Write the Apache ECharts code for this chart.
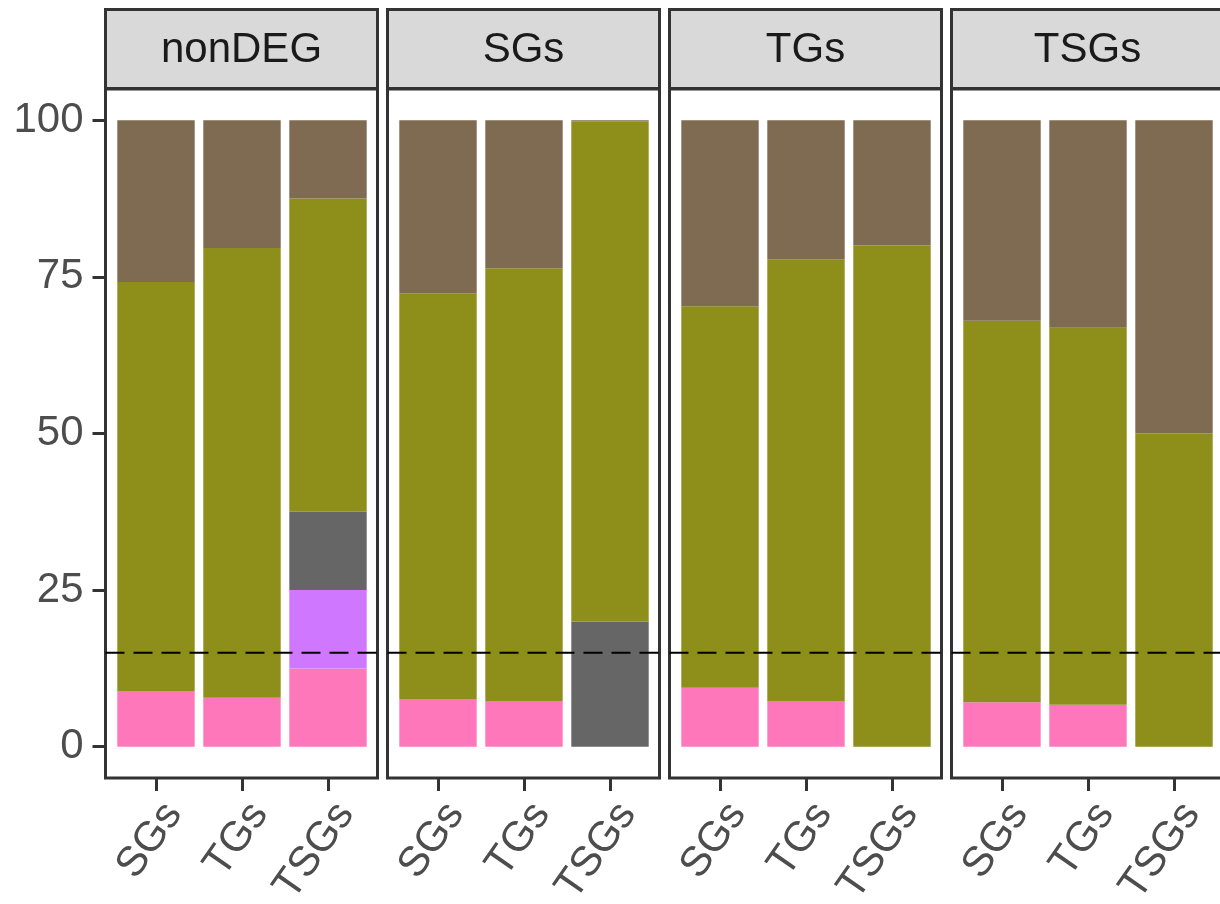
<!DOCTYPE html>
<html>
<head>
<meta charset="utf-8">
<script src="https://cdn.jsdelivr.net/npm/echarts@6/dist/echarts.min.js"></script>
<style>
  html, body { margin: 0; padding: 0; background: #fff; }
  #chart { width: 1220px; height: 904px; }
</style>
</head>
<body>
<div id="chart"></div>
<script>
// facet panels and the bars inside each panel
const panels = ['nonDEG', 'SGs', 'TGs', 'TSGs'];
const groups = ['SGs', 'TGs', 'TSGs'];
const yTicks = [0, 25, 50, 75, 100];
const threshold = 15;

// stacked segments (percent), bottom to top, one row per panel
const pink   = [[8.9, 7.8, 12.5], [7.6, 7.3, 0],    [9.4, 7.3, 0],    [7.1, 6.7, 0]];
const violet = [[0, 0, 12.5],     [0, 0, 0],        [0, 0, 0],        [0, 0, 0]];
const grey   = [[0, 0, 12.5],     [0, 0, 20],       [0, 0, 0],        [0, 0, 0]];
const olive  = [[65.3, 71.8, 50], [64.8, 69.1, 79.8], [60.9, 70.5, 80], [60.9, 60.2, 50]];
const brown  = [[25.8, 20.4, 12.5], [27.6, 23.6, 0.2], [29.7, 22.2, 20], [32.0, 33.1, 50]];

const layers = [
  { name: 'pink', data: pink, color: '#FF77BB' },
  { name: 'violet', data: violet, color: '#D077FF' },
  { name: 'grey', data: grey, color: '#666666' },
  { name: 'olive', data: olive, color: '#8E8E1B' },
  { name: 'brown', data: brown, color: '#7F6B51' }
];

const font = '"Liberation Sans", Arial, sans-serif';
const fs = 42;
const chart = echarts.init(document.getElementById('chart'));

const grids = [], xAxes = [], yAxes = [], series = [], graphics = [];
const gridTop = 89, gridHeight = 689;

panels.forEach(function (p, i) {
  const left = 105.5 + 282 * i;
  const width = 272;
  const a = grids.length;      // panel frame grid (y labels, threshold line)
  const b = a + 1;             // bar grid (category axis)
  grids.push({
    left: left, top: gridTop, width: width, height: gridHeight, outerBoundsMode: 'none',
    show: true, borderColor: '#333333', borderWidth: 3, backgroundColor: 'transparent'
  });
  grids.push({ left: 113 + 282 * i, top: gridTop, width: 258, height: gridHeight, outerBoundsMode: 'none' });

  xAxes.push({ gridIndex: a, type: 'value', min: 0, max: 1, show: false });
  yAxes.push({
    gridIndex: a, type: 'value', min: -5, max: 105,
    splitLine: { show: false },
    axisLine: { show: false },
    axisTick: { show: i === 0, customValues: yTicks, length: 13, lineStyle: { color: '#333333', width: 3 } },
    axisLabel: { show: i === 0, customValues: yTicks, margin: 22, fontSize: fs, color: '#4D4D4D', fontFamily: font }
  });
  xAxes.push({
    gridIndex: b, type: 'category', data: groups, position: 'bottom',
    axisLine: { show: true, onZero: false, lineStyle: { color: '#333333', width: 0, opacity: 0 } },
    axisTick: { show: true, alignWithLabel: true, length: 13, lineStyle: { color: '#333333', width: 3, opacity: 1 } },
    axisLabel: {
      rotate: 55, margin: 17, verticalAlign: 'top', interval: 0,
      fontSize: fs, color: '#4D4D4D', fontFamily: font
    }
  });
  yAxes.push({ gridIndex: b, type: 'value', min: -5, max: 105, show: false, splitLine: { show: false } });

  layers.forEach(function (l) {
    series.push({
      name: l.name, type: 'bar', xAxisIndex: b, yAxisIndex: b, stack: 'p' + i,
      barCategoryGap: '10%', itemStyle: { color: l.color }, silent: true,
      data: l.data[i]
    });
  });
  series.push({
    name: 'threshold', type: 'line', xAxisIndex: a, yAxisIndex: a, silent: true,
    symbol: 'none', z: 5,
    lineStyle: { color: '#000000', width: 2, type: [19, 9] },
    data: [[0, threshold], [1, threshold]]
  });

  // facet strip
  graphics.push({
    type: 'rect', shape: { x: left, y: 9.5, width: width, height: 79 },
    style: { fill: '#D9D9D9', stroke: '#333333', lineWidth: 3 }
  });
  graphics.push({
    type: 'text', x: left + width / 2, y: 50,
    style: { text: p, fontSize: fs, fontFamily: font, fill: '#1A1A1A', align: 'center', verticalAlign: 'middle' }
  });
});

chart.setOption({
  backgroundColor: '#ffffff',
  animation: false,
  grid: grids,
  xAxis: xAxes,
  yAxis: yAxes,
  series: series,
  graphic: graphics
});
</script>
</body>
</html>
